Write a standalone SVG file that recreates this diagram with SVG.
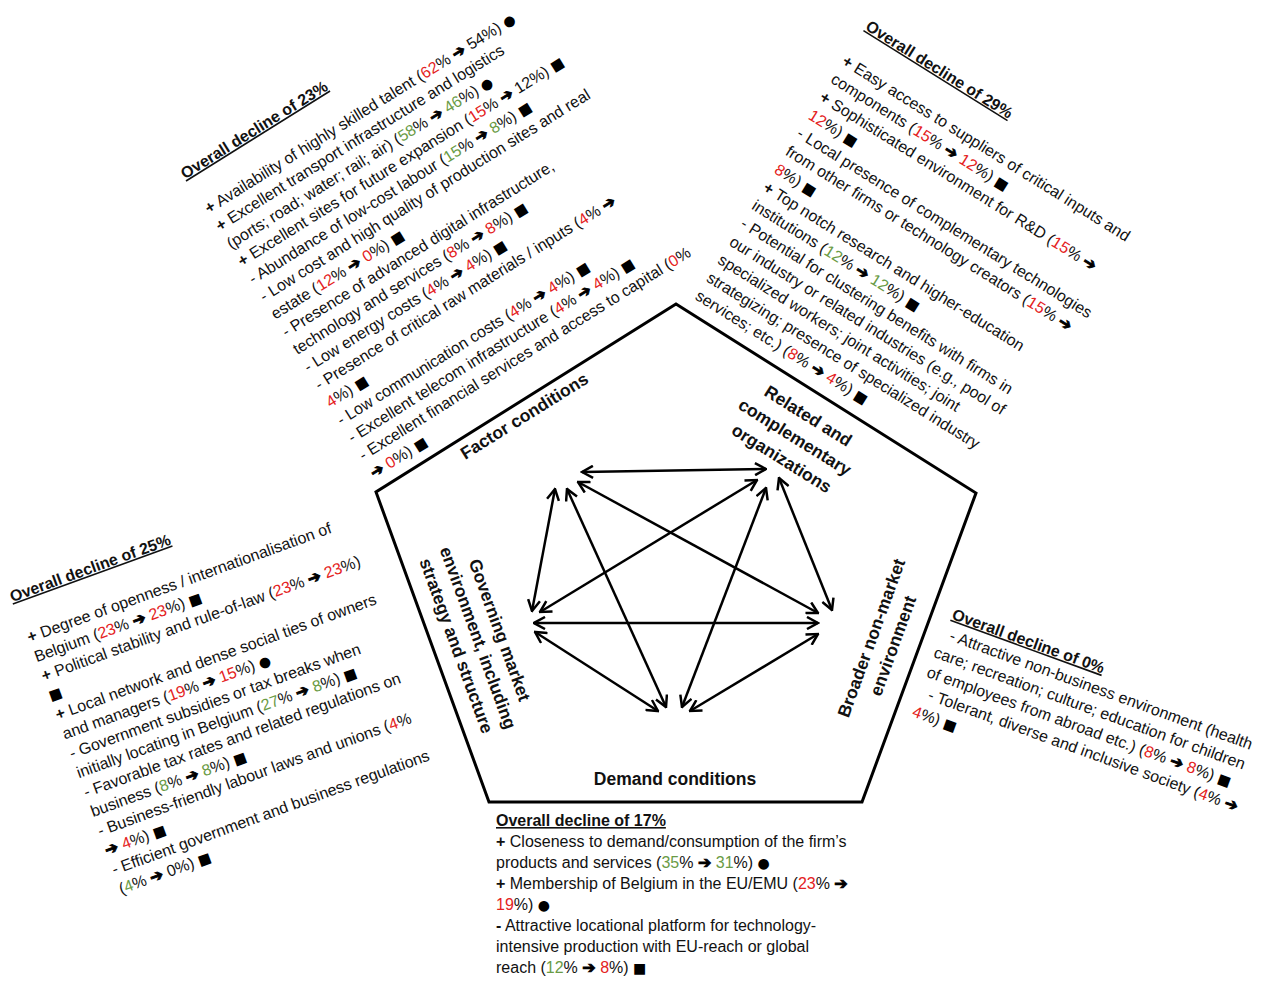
<svg xmlns="http://www.w3.org/2000/svg" width="1263" height="990" viewBox="0 0 1263 990">
<style>
.t text{font-family:"Liberation Sans",Arial,sans-serif;font-size:16px;fill:#111}
.h{font-weight:bold;text-decoration:underline}
.b{font-weight:bold}
.r{fill:#e42222}
.g{fill:#6a9b45}
.a{font-family:"DejaVu Sans",sans-serif;font-weight:normal;fill:#000;stroke:#000;stroke-width:0.9px}
.s{font-family:"DejaVu Sans",sans-serif;font-size:14px;fill:#000}
.lbl{font-family:"Liberation Sans",Arial,sans-serif;font-weight:bold;font-size:17.5px;fill:#111;text-anchor:middle}
.pent{fill:none;stroke:#000;stroke-width:3;stroke-linejoin:miter}
.con line{stroke:#000;stroke-width:2.5;marker-start:url(#ah);marker-end:url(#ah)}
</style>
<defs>
<marker id="ah" viewBox="0 0 14 14" refX="12.5" refY="7" markerWidth="14" markerHeight="14" markerUnits="userSpaceOnUse" orient="auto-start-reverse">
<path d="M1.5,1 L12.5,7 L1.5,13" fill="none" stroke="#000" stroke-width="2.5"/>
</marker>
</defs>
<rect width="1263" height="990" fill="#fff"/>

<g id="pentagon">
<polygon class="pent" points="676,304 976,493 862,802 489,802 376,492"/>
</g>

<g id="node-factor"><text class="lbl" transform="translate(527.5,421) rotate(-32)">Factor conditions</text></g>
<g id="node-related" transform="translate(805,421) rotate(32)">
<text class="lbl" x="0" y="0">Related and</text>
<text class="lbl" x="0" y="25">complementary</text>
<text class="lbl" x="0" y="50">organizations</text>
</g>
<g id="node-governing" transform="translate(494,632) rotate(70)">
<text class="lbl" x="0" y="0">Governing market</text>
<text class="lbl" x="0" y="23">environment, including</text>
<text class="lbl" x="0" y="46">strategy and structure</text>
</g>
<g id="node-broader" transform="translate(877,640) rotate(-70)">
<text class="lbl" x="0" y="0">Broader non-market</text>
<text class="lbl" x="0" y="23">environment</text>
</g>
<g id="node-demand"><text class="lbl" x="675" y="785">Demand conditions</text></g>

<g id="connectors" class="con">
<line x1="582" y1="472" x2="766" y2="469"/>
<line x1="555" y1="489" x2="532" y2="611"/>
<line x1="567" y1="489" x2="666" y2="707"/>
<line x1="578" y1="482" x2="818" y2="613"/>
<line x1="757" y1="480" x2="540" y2="612"/>
<line x1="766" y1="488" x2="682" y2="707"/>
<line x1="779" y1="478" x2="832" y2="610"/>
<line x1="534" y1="623" x2="818" y2="623"/>
<line x1="535" y1="632" x2="658" y2="711"/>
<line x1="818" y1="634" x2="690" y2="711"/>
</g>

<g id="text-factor" class="t" transform="translate(209,214) rotate(-32)">
<text class="h" x="-2" y="-42">Overall decline of 23%</text>
<text x="0" y="0"><tspan class="b">+</tspan> Availability of highly skilled talent (<tspan class="r">62</tspan>% <tspan class="a">➔</tspan> 54%) <tspan class="s">●</tspan></text>
<text x="0" y="20.8"><tspan class="b">+</tspan> Excellent transport infrastructure and logistics</text>
<text x="0" y="41.6">(ports; road; water; rail; air) (<tspan class="g">58</tspan>% <tspan class="a">➔</tspan> <tspan class="g">46</tspan>%) <tspan class="s">●</tspan></text>
<text x="0" y="62.4"><tspan class="b">+</tspan> Excellent sites for future expansion (<tspan class="r">15</tspan>% <tspan class="a">➔</tspan> 12%) <tspan class="s">■</tspan></text>
<text x="0" y="83.2">- Abundance of low-cost labour (<tspan class="g">15</tspan>% <tspan class="a">➔</tspan> <tspan class="g">8</tspan>%) <tspan class="s">■</tspan></text>
<text x="0" y="104">- Low cost and high quality of production sites and real</text>
<text x="0" y="124.8">estate (<tspan class="r">12</tspan>% <tspan class="a">➔</tspan> <tspan class="r">0</tspan>%) <tspan class="s">■</tspan></text>
<text x="0" y="145.6">- Presence of advanced digital infrastructure,</text>
<text x="0" y="166.4">technology and services (<tspan class="r">8</tspan>% <tspan class="a">➔</tspan> <tspan class="r">8</tspan>%) <tspan class="s">■</tspan></text>
<text x="0" y="187.2">- Low energy costs (<tspan class="r">4</tspan>% <tspan class="a">➔</tspan> <tspan class="r">4</tspan>%) <tspan class="s">■</tspan></text>
<text x="0" y="208">- Presence of critical raw materials / inputs (<tspan class="r">4</tspan>% <tspan class="a">➔</tspan></text>
<text x="0" y="228.8"><tspan class="r">4</tspan>%) <tspan class="s">■</tspan></text>
<text x="0" y="249.6">- Low communication costs (<tspan class="r">4</tspan>% <tspan class="a">➔</tspan> <tspan class="r">4</tspan>%) <tspan class="s">■</tspan></text>
<text x="0" y="270.4">- Excellent telecom infrastructure (<tspan class="r">4</tspan>% <tspan class="a">➔</tspan> <tspan class="r">4</tspan>%) <tspan class="s">■</tspan></text>
<text x="0" y="291.2">- Excellent financial services and access to capital (<tspan class="r">0</tspan>%</text>
<text x="0" y="312"><tspan class="a">➔</tspan> <tspan class="r">0</tspan>%) <tspan class="s">■</tspan></text>
</g>

<g id="text-related" class="t" transform="translate(841,64) rotate(32)">
<text class="h" x="1.4" y="-42">Overall decline of 29%</text>
<text x="0" y="0"><tspan class="b">+</tspan> Easy access to suppliers of critical inputs and</text>
<text x="0" y="21.3">components (<tspan class="r">15</tspan>% <tspan class="a">➔</tspan> <tspan class="r">12</tspan>%) <tspan class="s">■</tspan></text>
<text x="0" y="42.6"><tspan class="b">+</tspan> Sophisticated environment for R&amp;D (<tspan class="r">15</tspan>% <tspan class="a">➔</tspan></text>
<text x="0" y="63.9"><tspan class="r">12</tspan>%) <tspan class="s">■</tspan></text>
<text x="0" y="85.2">- Local presence of complementary technologies</text>
<text x="0" y="106.5">from other firms or technology creators (<tspan class="r">15</tspan>% <tspan class="a">➔</tspan></text>
<text x="0" y="127.8"><tspan class="r">8</tspan>%) <tspan class="s">■</tspan></text>
<text x="0" y="149.1"><tspan class="b">+</tspan> Top notch research and higher-education</text>
<text x="0" y="170.4">institutions (<tspan class="g">12</tspan>% <tspan class="a">➔</tspan> <tspan class="g">12</tspan>%) <tspan class="s">■</tspan></text>
<text x="0" y="191.7">- Potential for clustering benefits with firms in</text>
<text x="0" y="213">our industry or related industries (e.g., pool of</text>
<text x="0" y="234.3">specialized workers; joint activities; joint</text>
<text x="0" y="255.6">strategizing; presence of specialized industry</text>
<text x="0" y="276.9">services; etc.) (<tspan class="r">8</tspan>% <tspan class="a">➔</tspan> <tspan class="r">4</tspan>%) <tspan class="s">■</tspan></text>
</g>

<g id="text-governing" class="t" transform="translate(29.6,642.8) rotate(-20)">
<text class="h" x="-2.5" y="-44">Overall decline of 25%</text>
<text x="0" y="0"><tspan class="b">+</tspan> Degree of openness / internationalisation of</text>
<text x="0" y="20.6">Belgium (<tspan class="r">23</tspan>% <tspan class="a">➔</tspan> <tspan class="r">23</tspan>%) <tspan class="s">■</tspan></text>
<text x="0" y="41.2"><tspan class="b">+</tspan> Political stability and rule-of-law (<tspan class="r">23</tspan>% <tspan class="a">➔</tspan> <tspan class="r">23</tspan>%)</text>
<text x="0" y="61.8"><tspan class="s">■</tspan></text>
<text x="0" y="82.4"><tspan class="b">+</tspan> Local network and dense social ties of owners</text>
<text x="0" y="103">and managers (<tspan class="r">19</tspan>% <tspan class="a">➔</tspan> <tspan class="r">15</tspan>%) <tspan class="s">●</tspan></text>
<text x="0" y="123.6">- Government subsidies or tax breaks when</text>
<text x="0" y="144.2">initially locating in Belgium (<tspan class="g">27</tspan>% <tspan class="a">➔</tspan> <tspan class="g">8</tspan>%) <tspan class="s">■</tspan></text>
<text x="0" y="164.8">- Favorable tax rates and related regulations on</text>
<text x="0" y="185.4">business (<tspan class="g">8</tspan>% <tspan class="a">➔</tspan> <tspan class="g">8</tspan>%) <tspan class="s">■</tspan></text>
<text x="0" y="206">- Business-friendly labour laws and unions (<tspan class="r">4</tspan>%</text>
<text x="0" y="226.6"><tspan class="a">➔</tspan> <tspan class="r">4</tspan>%) <tspan class="s">■</tspan></text>
<text x="0" y="247.2">- Efficient government and business regulations</text>
<text x="0" y="267.8">(<tspan class="g">4</tspan>% <tspan class="a">➔</tspan> 0%) <tspan class="s">■</tspan></text>
</g>

<g id="text-broader" class="t" transform="translate(940,637) rotate(20)">
<text class="h" x="4" y="-21">Overall decline of 0%</text>
<text x="9" y="0">- Attractive non-business environment (health</text>
<text x="0" y="21">care; recreation; culture; education for children</text>
<text x="0" y="42">of employees from abroad etc.) (<tspan class="r">8</tspan>% <tspan class="a">➔</tspan> <tspan class="r">8</tspan>%) <tspan class="s">■</tspan></text>
<text x="9" y="63">- Tolerant, diverse and inclusive society (<tspan class="r">4</tspan>% <tspan class="a">➔</tspan></text>
<text x="0" y="84"><tspan class="r">4</tspan>%) <tspan class="s">■</tspan></text>
</g>

<g id="text-demand" class="t">
<text class="h" x="496" y="826">Overall decline of 17%</text>
<text x="496" y="847"><tspan class="b">+</tspan> Closeness to demand/consumption of the firm’s</text>
<text x="496" y="868">products and services (<tspan class="g">35</tspan>% <tspan class="a">➔</tspan> <tspan class="g">31</tspan>%) <tspan class="s">●</tspan></text>
<text x="496" y="889"><tspan class="b">+</tspan> Membership of Belgium in the EU/EMU (<tspan class="r">23</tspan>% <tspan class="a">➔</tspan></text>
<text x="496" y="910"><tspan class="r">19</tspan>%) <tspan class="s">●</tspan></text>
<text x="496" y="931"><tspan class="b">-</tspan> Attractive locational platform for technology-</text>
<text x="496" y="952">intensive production with EU-reach or global</text>
<text x="496" y="973">reach (<tspan class="g">12</tspan>% <tspan class="a">➔</tspan> <tspan class="r">8</tspan>%) <tspan class="s">■</tspan></text>
</g>
</svg>
